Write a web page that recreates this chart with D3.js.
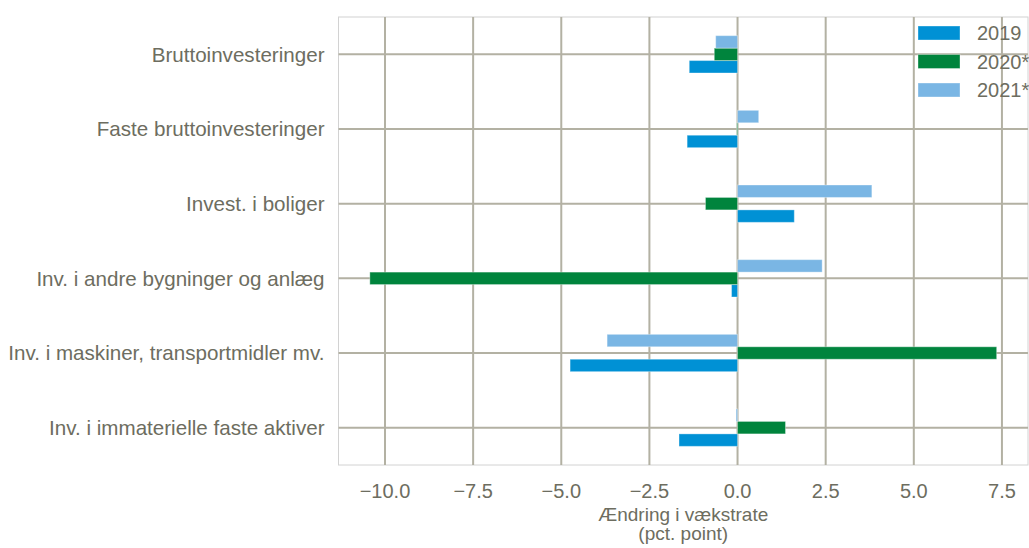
<!DOCTYPE html>
<html>
<head>
<meta charset="utf-8">
<script src="https://cdn.jsdelivr.net/npm/d3@7"></script>
<style>
  html, body { margin: 0; padding: 0; background: #ffffff; }
  svg { display: block; }
  text { font-family: "Liberation Sans", Arial, Helvetica, sans-serif; }
</style>
</head>
<body>
<svg id="chart" width="1029" height="548"></svg>
<script>
const categories = [
  "Bruttoinvesteringer",
  "Faste bruttoinvesteringer",
  "Invest. i boliger",
  "Inv. i andre bygninger og anlæg",
  "Inv. i maskiner, transportmidler mv.",
  "Inv. i immaterielle faste aktiver"
];
const seriesNames = ["2019", "2020*", "2021*"];
const values2019 = [-1.37, -1.43, 1.61, -0.17, -4.75, -1.66];
const values2020 = [-0.66, -0.02, -0.91, -10.43, 7.35, 1.36];
const values2021 = [-0.62, 0.60, 3.81, 2.40, -3.70, -0.04];
const xTicks = [-10, -7.5, -5, -2.5, 0, 2.5, 5, 7.5];
const xLabelLines = ["Ændring i vækstrate", "(pct. point)"];

const colors = { "2019": "#0091d5", "2020*": "#00843d", "2021*": "#7ab6e4" };
const textColor = "#6d6d60";
const gridColor = "#b3b1a3";

const seriesValues = { "2019": values2019, "2020*": values2020, "2021*": values2021 };

const svg = d3.select("#chart");
const plot = { left: 338.5, right: 1028, top: 17, bottom: 465 };

const all = [].concat(values2019, values2020, values2021);
const mn = d3.min(all), mx = d3.max(all), pad = (mx - mn) * 0.05;
const x = d3.scaleLinear().domain([mn - pad, mx + pad]).range([plot.left, plot.right]);
const y = d3.scaleBand().domain(categories).range([plot.top, plot.bottom]).padding(0);
const bw = y.bandwidth();
const sub = d3.scaleBand().domain(seriesNames.slice().reverse()).range([-0.25 * bw, 0.25 * bw]).padding(0);

// frame
svg.append("rect")
  .attr("x", plot.left).attr("y", plot.top)
  .attr("width", plot.right - plot.left).attr("height", plot.bottom - plot.top)
  .attr("fill", "none").attr("stroke", "#d2d2d2").attr("stroke-width", 1);

// grid
const grid = svg.append("g");
grid.selectAll("line.v").data(xTicks).join("line")
  .attr("x1", d => x(d)).attr("x2", d => x(d))
  .attr("y1", plot.top).attr("y2", plot.bottom)
  .attr("stroke", gridColor).attr("stroke-width", 2);
grid.selectAll("line.h").data(categories).join("line")
  .attr("x1", plot.left).attr("x2", plot.right)
  .attr("y1", d => y(d) + bw / 2).attr("y2", d => y(d) + bw / 2)
  .attr("stroke", gridColor).attr("stroke-width", 2);

// bars
const barData = [];
seriesNames.forEach(s => categories.forEach((c, i) => barData.push({ s, c, v: seriesValues[s][i] })));
svg.append("g").selectAll("rect").data(barData).join("rect")
  .attr("x", d => Math.min(x(0), x(d.v)))
  .attr("width", d => Math.abs(x(d.v) - x(0)))
  .attr("y", d => y(d.c) + bw / 2 + sub(d.s))
  .attr("height", sub.bandwidth())
  .attr("fill", d => colors[d.s])
  .attr("stroke", "#ffffff").attr("stroke-opacity", 0.35).attr("stroke-width", 1);

// y labels
svg.append("g").selectAll("text").data(categories).join("text")
  .attr("x", plot.left - 14)
  .attr("y", d => y(d) + bw / 2)
  .attr("dy", "0.35em")
  .attr("text-anchor", "end")
  .attr("font-size", 20.6)
  .attr("fill", textColor)
  .text(d => d);

// x tick labels
const fmt = d3.format(".1f");
svg.append("g").selectAll("text").data(xTicks).join("text")
  .attr("x", d => x(d))
  .attr("y", 497.5)
  .attr("text-anchor", "middle")
  .attr("font-size", 20)
  .attr("fill", textColor)
  .text(d => fmt(d));

// x axis label
svg.append("g").selectAll("text").data(xLabelLines).join("text")
  .attr("x", (plot.left + plot.right) / 2)
  .attr("y", (d, i) => 520.5 + i * 19.5)
  .attr("text-anchor", "middle")
  .attr("font-size", 19)
  .attr("fill", textColor)
  .text(d => d);

// legend
const lg = svg.append("g");
seriesNames.forEach((s, i) => {
  const cy = 33 + i * 28.5;
  lg.append("rect").attr("x", 918).attr("y", cy - 7).attr("width", 42).attr("height", 14)
    .attr("fill", colors[s]).attr("stroke", "#ffffff").attr("stroke-opacity", 0.35);
  lg.append("text").attr("x", 977).attr("y", cy).attr("dy", "0.35em")
    .attr("font-size", 20).attr("fill", textColor).text(s);
});
</script>
</body>
</html>
